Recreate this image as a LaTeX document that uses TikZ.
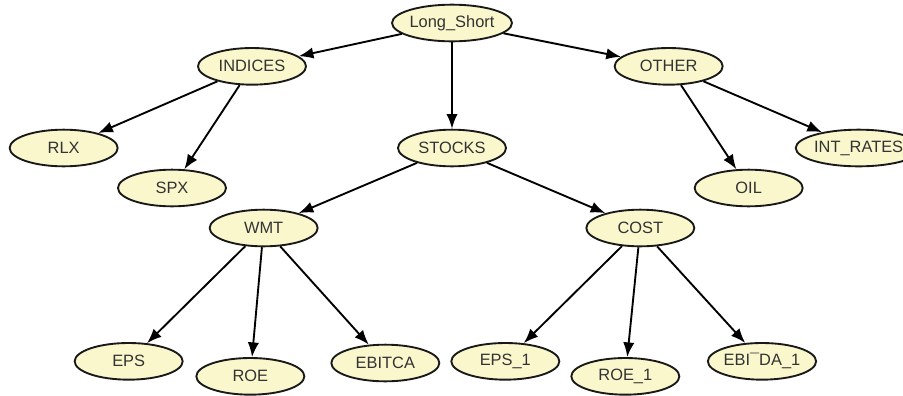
\documentclass[tikz,border=0pt]{standalone}
\usepackage{fontspec}
\setmainfont{Liberation Sans}
\usepackage{xcolor}
\usepackage{tikz}
\usetikzlibrary{arrows.meta,positioning,shapes}
\definecolor{nodefill}{RGB}{250,247,205}

\begin{document}
\begin{tikzpicture}[->,>={Latex[length=4.4mm,width=3.4mm]},line width=1.6pt,auto,node distance=1.2cm]
			\tikzstyle{every node}=[ellipse,fill=nodefill,draw=black!90,line width=1.6pt,text=black!80,
			minimum width=3.24cm,minimum height=1.1cm,inner sep=0pt,font=\fontsize{14}{16}\selectfont]
			\useasboundingbox (0,0) rectangle (27.09,-11.85);
			\node    (LS) at (13.56,-0.69)                                 {Long\_Short};
			\node    (IND)[below of = LS, xshift=-6cm, yshift=-0.1cm]      {INDICES};
			\node    (OTH)[below of = LS, xshift=6.5cm, yshift=-0.1cm]     {OTHER};
			\node    (STK)[below of = LS, yshift=-2.55cm]                  {STOCKS};
			\node    (RLX)[below of = IND, xshift=-5.65cm, yshift=-1.25cm] {RLX};
			\node    (SPX)[below of = IND, xshift=-2.4cm, yshift=-2.45cm]  {SPX};
			\node    (INT)[below of = OTH, xshift=5.7cm, yshift=-1.25cm]   {INT\_RATES};
			\node    (OIL)[below of = OTH, xshift=2.4cm, yshift=-2.45cm]   {OIL};
			\node    (WMT)[below of = STK, xshift=-5.65cm, yshift=-1.2cm]  {WMT};
			\node    (COST)[below of = STK, xshift=5.65cm, yshift=-1.2cm]  {COST};
			\node    (EPS)[below of = WMT, xshift=-4.05cm, yshift=-2.8cm]  {EPS};
			\node    (ROE)[below of = WMT, xshift=-0.4cm, yshift=-3.25cm]  {ROE};
			\node    (EBITCA)[below of = WMT, xshift=3.65cm, yshift=-2.85cm] {EBITCA};
			\node    (EPSa)[below of = COST, xshift=-4.05cm, yshift=-2.8cm]  {EPS\_1};
			\node    (ROEa)[below of = COST, xshift=-0.45cm, yshift=-3.25cm] {ROE\_1};
			\node    (EBIDAa)[below of = COST, xshift=3.65cm, yshift=-2.8cm] {EBI¯DA\_1};
			
			\path
			(LS) edge (IND)
			(LS) edge (STK)
			(LS) edge (OTH)
			(IND) edge (RLX)
			(IND) edge (SPX)
			(OTH) edge (OIL)
			(OTH) edge (INT)
			(STK) edge (WMT)
			(STK) edge (COST)
			(WMT) edge (EPS)
			(WMT) edge (ROE)
			(WMT) edge (EBITCA)
			(COST) edge (EPSa)
			(COST) edge (ROEa)
			(COST) edge (EBIDAa);
			
			\end{tikzpicture}
\end{document}
